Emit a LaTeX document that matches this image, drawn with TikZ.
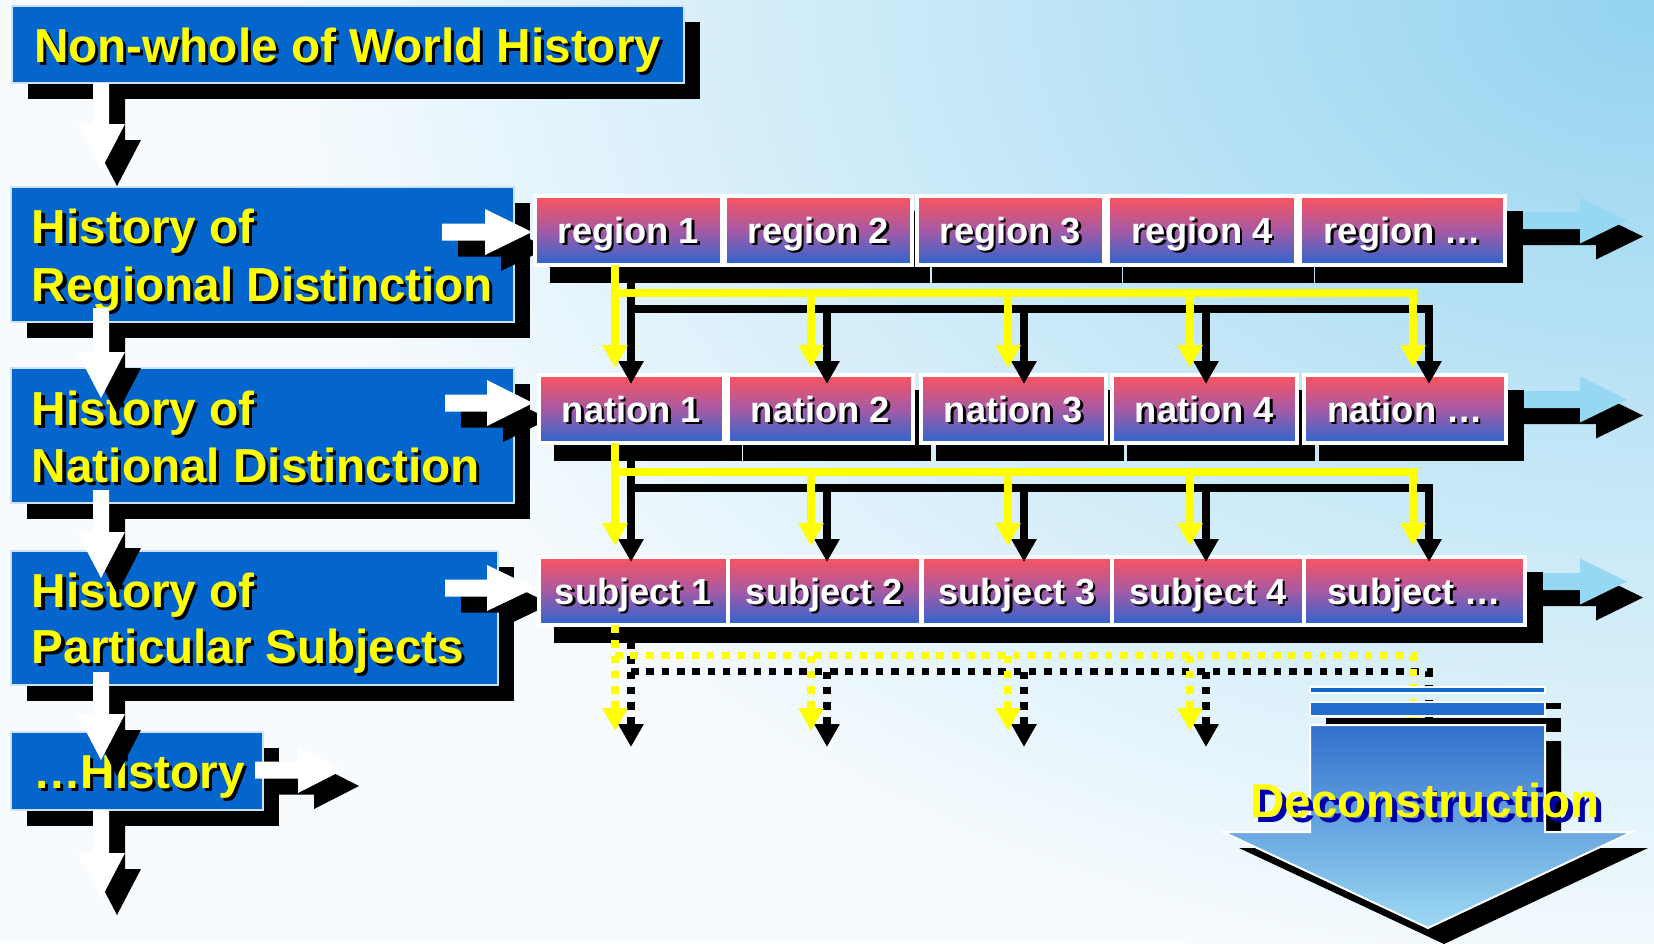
\documentclass[tikz,border=0pt]{standalone}
\usepackage{fontspec}
\setmainfont{Liberation Sans}
\usetikzlibrary{arrows.meta,fit,calc}

\definecolor{boxblue}{RGB}{4,102,204}
\definecolor{boxrim}{RGB}{205,225,248}
\definecolor{txtyellow}{RGB}{255,255,0}
\definecolor{rowtop}{RGB}{252,84,94}
\definecolor{rowmid}{RGB}{165,90,165}
\definecolor{rowbot}{RGB}{44,102,208}
\definecolor{glowblue}{RGB}{150,216,242}
\definecolor{bginner}{RGB}{148,211,240}
\definecolor{bgmid}{RGB}{196,231,247}
\definecolor{bgouter}{RGB}{247,251,254}
\definecolor{stripeA}{RGB}{16,104,205}
\definecolor{stripeB}{RGB}{34,110,206}
\definecolor{decotop}{RGB}{48,112,204}
\definecolor{decobot}{RGB}{158,218,243}
\definecolor{decoshadow}{RGB}{0,0,170}

% radial glow: the 25bp ring is mapped onto the shaded path's outline
\pgfdeclareradialshading{bgglow}{\pgfpoint{0bp}{0bp}}{color(0bp)=(bginner);color(12bp)=(bgmid);color(25bp)=(bgouter);color(50bp)=(bgouter)}

\pgfdeclarelayer{bg}
\pgfdeclarelayer{glow}
\pgfdeclarelayer{lshadow}
\pgfdeclarelayer{larrow}
\pgfdeclarelayer{rshadow}
\pgfdeclarelayer{rboxes}
\pgfdeclarelayer{links}
\pgfdeclarelayer{deco}
\pgfsetlayers{bg,glow,lshadow,main,larrow,rshadow,rboxes,links,deco}

\tikzset{
  lbox/.style={fill=boxblue, draw=boxrim, line width=1pt, inner sep=0pt, outer sep=0pt},
  rbox/.style={top color=rowtop, bottom color=rowbot, middle color=rowmid,
               draw=white, line width=1.75pt, inner sep=0pt, outer sep=0pt},
  ltxt/.style={anchor=base west, inner sep=0pt, outer sep=0pt, text=txtyellow,
               font=\fontsize{23.85pt}{28pt}\selectfont\bfseries},
  rtxt/.style={anchor=base, inner sep=0pt, outer sep=0pt, text=white,
               font=\fontsize{18.15pt}{22pt}\selectfont\bfseries},
  dtxt/.style={anchor=base, inner sep=0pt, outer sep=0pt, text=txtyellow,
               font=\fontsize{23.8pt}{28pt}\selectfont\bfseries},
  link/.style={line width=3.75pt, -{Triangle[width=12pt,length=11.5pt]}},
  ylink/.style={link, draw=txtyellow},
  klink/.style={link, draw=black},
  dotlink/.style={dash pattern=on 3.75pt off 3.9pt},
}

% blue box of the left column, with its black drop shadow
\newcommand\leftbox[5]{%
  \node[lbox, fit={(#2,#3) (#4,#5)}] (#1) {};
  \begin{pgfonlayer}{lshadow}
    \fill[black] ([shift={(16,16)}]#1.north west) rectangle ([shift={(16,16)}]#1.south east);
  \end{pgfonlayer}}

% yellow caption with black drop shadow
\newcommand\ytext[4]{%
  \node[ltxt, text=black] (#1s) at (#2+3,#3+3) {#4};
  \node[ltxt] (#1) at (#2,#3) {#4};}

% gradient box of a row, with label and drop shadow
\newcommand\rowbox[6]{%
  \begin{pgfonlayer}{rboxes}
    \node[rbox, fit={(#2,#3) (#4,#5)}] (#1) {};
    \node[rtxt, text=black] (#1s) at ($(#1.north)+(2.5,49.5)$) {#6};
    \node[rtxt] (#1t) at ($(#1.north)+(0,47)$) {#6};
  \end{pgfonlayer}
  \begin{pgfonlayer}{rshadow}
    \fill[black] ([shift={(14.5,15)}]#1.north west) rectangle ([shift={(17.5,17.5)}]#1.south east);
  \end{pgfonlayer}}

% block arrow pointing down: centre x, top, head start, tip
\newcommand\downblock[4]{%
  \begin{scope}[shift={(#1+16,16)}]
    \fill[black] (-8,#2) -- (8,#2) -- (8,#3) -- (24,#3) -- (0,#4) -- (-24,#3) -- (-8,#3) -- cycle;
  \end{scope}
  \begin{scope}[shift={(#1,0)}]
    \fill[white] (-8,#2) -- (8,#2) -- (8,#3) -- (24,#3) -- (0,#4) -- (-24,#3) -- (-8,#3) -- cycle;
  \end{scope}}

% block arrow pointing right: fill, start x, head x, tip x, centre y
\newcommand\rightpath[5]{%
  \fill[#1] (#2,#5-8.5) -- (#3,#5-8.5) -- (#3,#5-23) -- (#4,#5) -- (#3,#5+23)
            -- (#3,#5+8.5) -- (#2,#5+8.5) -- cycle;}
\newcommand\rightblock[5]{%
  \begin{scope}[shift={(16,16)}]\rightpath{black}{#2}{#3}{#4}{#5}\end{scope}
  \rightpath{#1}{#2}{#3}{#4}{#5}}

% branching connector: style, column prefix, start, bar level, tip level
\newcommand\linktree[5]{%
  \draw[#1] (#21 |- #3) -- (#21 |- #4) -- (#25 |- #4) -- (#25 |- #5);
  \foreach \i in {1,...,4} \draw[#1] (#2\i |- #4) -- (#2\i |- #5);}

\begin{document}
\begin{tikzpicture}[x=0.5pt,y=-0.5pt]
\useasboundingbox (0,0) rectangle (1654,943);

% background glow from the upper right corner
\begin{pgfonlayer}{bg}
  \begin{scope}
    \clip (0,0) rectangle (1654,943);
    \fill[bgouter] (0,0) rectangle (1654,943);
    \shade[shading=bgglow] (1654,0) ellipse [x radius=700pt, y radius=500pt];
  \end{scope}
\end{pgfonlayer}

% left column
\leftbox{b0}{12}{6}{684}{83}
\leftbox{b1}{11}{187}{514}{322}
\leftbox{b2}{11}{368}{514}{503}
\leftbox{b3}{11}{551}{498}{685}
\leftbox{b4}{11}{732}{263}{810}

\ytext{t0}{34}{62}{Non-whole of World History}
\ytext{t1a}{32}{243}{History of}
\ytext{t1b}{32}{301}{Regional Distinction}
\ytext{t2a}{32}{425}{History of}
\ytext{t2b}{32}{482}{National Distinction}
\ytext{t3a}{32}{607}{History of}
\ytext{t3b}{32}{663}{Particular Subjects}
\ytext{t4}{33}{788}{…History}

% white block arrows of the left column
\begin{pgfonlayer}{larrow}
  \downblock{101}{83}{124}{170}
  \downblock{101}{308}{352}{398}
  \downblock{101}{490}{532}{578}
  \downblock{101}{672}{714}{760}
  \downblock{101}{810}{853}{899}
  \rightblock{white}{442}{485}{532}{232}
  \rightblock{white}{445}{487}{533}{403}
  \rightblock{white}{445}{487}{535}{588}
  \rightblock{white}{255}{298}{343}{770}
\end{pgfonlayer}

% rows
\rowbox{r1}{535}{196}{722}{265}{region 1}
\rowbox{r2}{725}{196}{912}{265}{region 2}
\rowbox{r3}{917}{196}{1104}{265}{region 3}
\rowbox{r4}{1108}{196}{1296}{265}{region 4}
\rowbox{r5}{1300}{196}{1505}{265}{region …}

\rowbox{n1}{539}{375}{724}{443}{nation 1}
\rowbox{n2}{728}{375}{913}{443}{nation 2}
\rowbox{n3}{921}{375}{1106}{443}{nation 3}
\rowbox{n4}{1112}{375}{1297}{443}{nation 4}
\rowbox{n5}{1304}{375}{1506}{443}{nation …}

\rowbox{s1}{539}{557}{728}{625}{subject 1}
\rowbox{s2}{728}{557}{921}{625}{subject 2}
\rowbox{s3}{922}{557}{1112}{625}{subject 3}
\rowbox{s4}{1112}{557}{1304}{625}{subject 4}
\rowbox{s5}{1304}{557}{1525}{625}{subject …}

% light blue arrows continuing each row
\begin{pgfonlayer}{glow}
  \rightblock{glowblue}{1490}{1580}{1627}{220.5}
  \rightblock{glowblue}{1490}{1580}{1627}{399.5}
  \rightblock{glowblue}{1500}{1580}{1627}{581.5}
\end{pgfonlayer}

% branching connectors between the rows
\begin{pgfonlayer}{links}
  \foreach \i/\x in {1/615,2/811,3/1008,4/1190,5/1413}{
    \coordinate (yc\i) at (\x,0);
    \coordinate (kc\i) at (\x+16,0);
  }
  \coordinate (kst1) at (0,279);   \coordinate (kbar1) at (0,309);   \coordinate (ktip1) at (0,384);
  \coordinate (ybar1) at (0,293);  \coordinate (ytip1) at (0,368);
  \coordinate (kst2) at (0,459);   \coordinate (kbar2) at (0,488);   \coordinate (ktip2) at (0,562);
  \coordinate (ybar2) at (0,472);  \coordinate (ytip2) at (0,546);
  \coordinate (kst3) at (0,641);   \coordinate (kbar3) at (0,671.5); \coordinate (ktip3) at (0,747);
  \coordinate (ybar3) at (0,655.5);\coordinate (ytip3) at (0,731);
  \linktree{klink}{kc}{kst1}{kbar1}{ktip1}
  \linktree{ylink}{yc}{r1.south}{ybar1}{ytip1}
  \linktree{klink}{kc}{kst2}{kbar2}{ktip2}
  \linktree{ylink}{yc}{n1.south}{ybar2}{ytip2}
  \linktree{klink,dotlink}{kc}{kst3}{kbar3}{ktip3}
  \linktree{ylink,dotlink}{yc}{s1.south}{ybar3}{ytip3}
\end{pgfonlayer}

% striped down arrow
\begin{pgfonlayer}{deco}
  \fill[black] (1326,703) rectangle (1561,709);
  \fill[black] (1326,718) rectangle (1561,732);
  \fill[black] (1326,741) -- (1561,741) -- (1561,848) -- (1648,848) -- (1444,944)
               -- (1239,848) -- (1326,848) -- cycle;
  \filldraw[fill=stripeA, draw=white, line width=1pt] (1310,687) rectangle (1545,693);
  \filldraw[fill=stripeB, draw=white, line width=1pt] (1310,702) rectangle (1545,716);
  \shadedraw[top color=decotop, bottom color=decobot, draw=white, line width=1pt]
    (1310,725) -- (1545,725) -- (1545,832) -- (1632,832) -- (1428,928)
    -- (1223,832) -- (1310,832) -- cycle;
  \node[dtxt, text=decoshadow] (decos) at (1430,822) {Deconstruction};
  \node[dtxt] (deco) at (1425,817) {Deconstruction};
\end{pgfonlayer}
\end{tikzpicture}
\end{document}
